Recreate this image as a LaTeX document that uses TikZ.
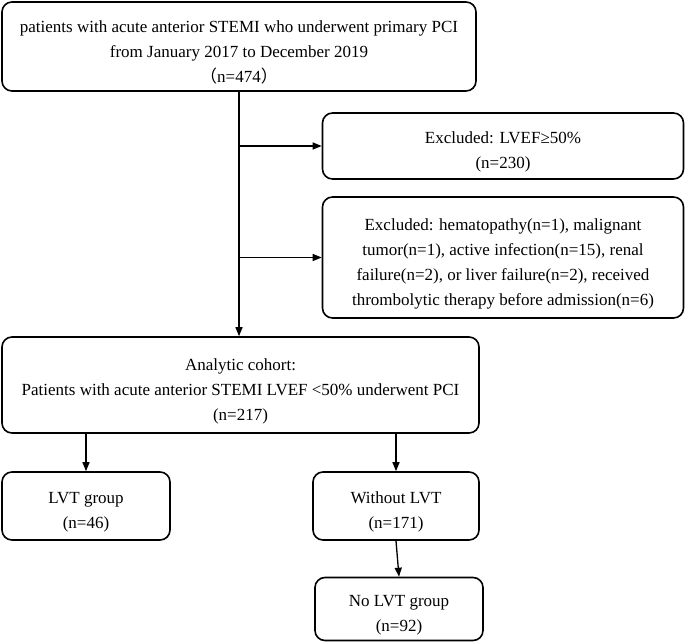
\documentclass[tikz,border=0pt]{standalone}
\usepackage{fontspec}
\setmainfont{Liberation Serif}
\newfontfamily\cjk{Noto Sans CJK SC}
\usetikzlibrary{arrows.meta}
\newcommand\tbstrut{\rule{0pt}{24pt}}
\begin{document}
\begin{tikzpicture}[x=1pt,y=-1pt,
  box/.style={draw, line width=1.6pt, rounded corners=10pt, align=center, inner sep=0pt,
    font=\fontsize{17}{25}\selectfont},
  arr/.style={line width=1.3pt, -{Triangle[length=9pt,width=7pt]}}]
\useasboundingbox (0,0) rectangle (685,642);
\node[box, minimum width=474pt, minimum height=89pt] (top) at (239,46.5)
  {\tbstrut patients with acute anterior STEMI who underwent primary PCI\\from January 2017 to December 2019\\{\cjk（}n=474{\cjk）}};
\node[box, minimum width=361pt, minimum height=66pt] (ex1) at (503,146)
  {\tbstrut Excluded: LVEF≥50\%\\(n=230)};
\node[box, minimum width=361pt, minimum height=121pt] (ex2) at (503,257.5)
  {\tbstrut Excluded: hematopathy(n=1), malignant\\tumor(n=1), active infection(n=15), renal\\failure(n=2), or liver failure(n=2), received\\thrombolytic therapy before admission(n=6)};
\node[box, minimum width=477pt, minimum height=96pt] (ana) at (240.5,385)
  {\tbstrut Analytic cohort:\\Patients with acute anterior STEMI LVEF <50\% underwent PCI\\(n=217)};
\node[box, minimum width=168pt, minimum height=68pt] (lvt) at (86,506)
  {\tbstrut LVT group\\(n=46)};
\node[box, minimum width=166pt, minimum height=68pt] (wo) at (396,506)
  {\tbstrut Without LVT\\(n=171)};
\node[box, minimum width=168pt, minimum height=63pt] (no) at (399,609)
  {\tbstrut No LVT group\\(n=92)};
\draw[arr] (top.south) -- (top.south |- ana.north);
\draw[arr] (top.south |- ex1.west) -- (ex1.west);
\draw[arr] (top.south |- ex2.west) -- (ex2.west);
\draw[arr] (lvt.north |- ana.south) -- (lvt.north);
\draw[arr] (wo.north |- ana.south) -- (wo.north);
\draw[arr] (wo.south) -- (no.north);
\end{tikzpicture}
\end{document}
